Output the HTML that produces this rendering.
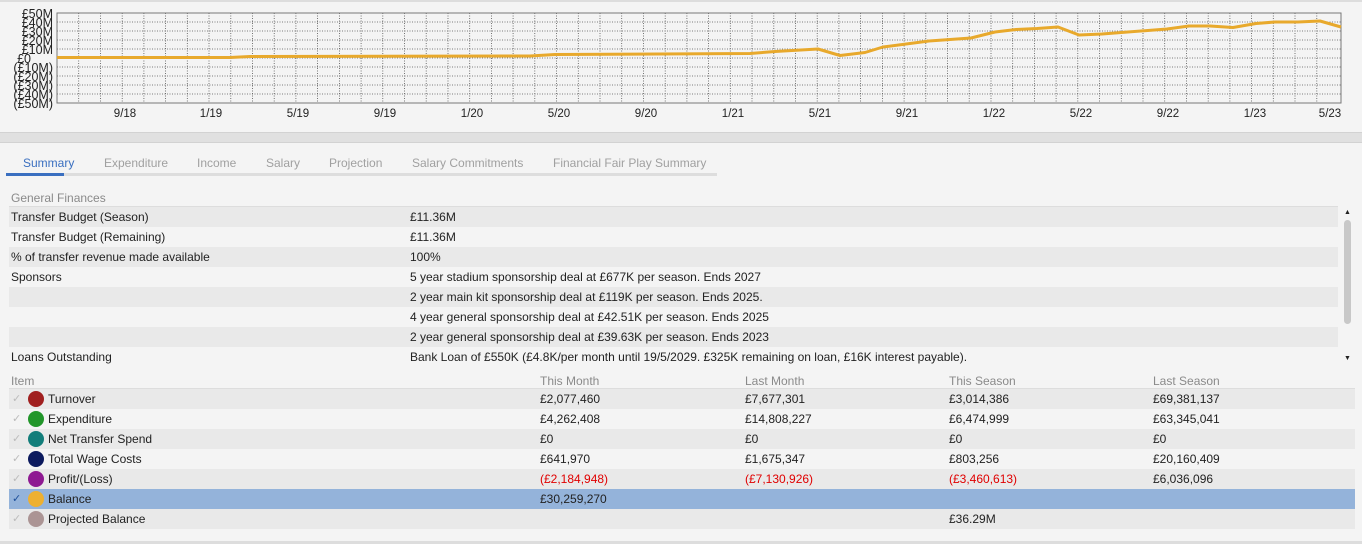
<!DOCTYPE html>
<html><head><meta charset="utf-8"><style>
*{margin:0;padding:0;box-sizing:border-box}
body{width:1362px;height:544px;background:#f4f4f4;font-family:"Liberation Sans",sans-serif;font-size:12px;color:#222;position:relative;overflow:hidden}
.a{position:absolute;white-space:nowrap}
.row{position:absolute;height:20px;line-height:21px}
.sh{background:#e9e9e9}
.tab{position:absolute;top:156px;color:#a0a0a0;font-size:12px}
.hd{color:#8a8a8a}
.red{color:#e00000}
.dot{position:absolute;width:16px;height:16px;border-radius:50%;top:2px;left:19px}
.ck{position:absolute;left:3px;color:#bbb;font-size:11px}
</style></head><body>
<div class="a" style="left:0;top:0;width:1362px;height:2px;background:#ddd"></div>
<svg class="a" style="left:0;top:0" width="1362" height="125">
<g stroke="#555" stroke-width="0.8" stroke-dasharray="1,1.5" fill="none">
<path d="M57 22H1341M57 31H1341M57 40H1341M57 49H1341M57 58H1341M57 67H1341M57 76H1341M57 85H1341M57 94H1341"/>
</g>
<g id="vl" stroke="#555" stroke-width="0.8" stroke-dasharray="1,1.5"></g>
<rect x="57" y="13" width="1284" height="90" fill="none" stroke="#777" stroke-width="1"/>
<polyline fill="none" stroke="#e8a92c" stroke-width="3" stroke-linejoin="round" points="57,57.5 230,57.5 250,56.5 530,56 555,54.5 750,53.5 775,51.5 818,49 840,55.5 865,52.5 883,47 929,41 971,38 995,32 1016,29.5 1037,28.5 1058,27 1079,35 1102,34 1167,29 1189,26 1210,26 1233,27.5 1256,23.5 1275,22 1298,22 1320,21 1341,27"/>
<g font-family="Liberation Sans" font-size="12.5" fill="#222" text-anchor="end">
<text x="53" y="18">£50M</text><text x="53" y="27">£40M</text><text x="53" y="36">£30M</text><text x="53" y="45">£20M</text><text x="53" y="54">£10M</text><text x="31" y="63">£0</text><text x="53" y="72">(£10M)</text><text x="53" y="81">(£20M)</text><text x="53" y="90">(£30M)</text><text x="53" y="99">(£40M)</text><text x="53" y="108">(£50M)</text>
</g>
<g font-family="Liberation Sans" font-size="11.5" fill="#222" text-anchor="middle">
<text x="125" y="117">9/18</text><text x="211" y="117">1/19</text><text x="298" y="117">5/19</text><text x="385" y="117">9/19</text><text x="472" y="117">1/20</text><text x="559" y="117">5/20</text><text x="646" y="117">9/20</text><text x="733" y="117">1/21</text><text x="820" y="117">5/21</text><text x="907" y="117">9/21</text><text x="994" y="117">1/22</text><text x="1081" y="117">5/22</text><text x="1168" y="117">9/22</text><text x="1255" y="117">1/23</text><text x="1330" y="117">5/23</text>
</g>
</svg>
<script>
var g=document.getElementById('vl'),s='';for(var k=1;k<59;k++){var x=(57+21.72*k).toFixed(1);s+='<line x1="'+x+'" y1="13" x2="'+x+'" y2="103"/>';}g.innerHTML=s;
</script>
<div class="a" style="left:0;top:132px;width:1362px;height:11px;background:#e0e0e0;border-top:1px solid #d2d2d2;border-bottom:1px solid #d2d2d2"></div>
<div class="tab" style="left:23px;color:#3a6fc0">Summary</div>
<div class="tab" style="left:104px">Expenditure</div>
<div class="tab" style="left:197px">Income</div>
<div class="tab" style="left:266px">Salary</div>
<div class="tab" style="left:329px">Projection</div>
<div class="tab" style="left:412px">Salary Commitments</div>
<div class="tab" style="left:553px">Financial Fair Play Summary</div>
<div class="a" style="left:6px;top:173px;width:711px;height:3px;background:#ddd"></div>
<div class="a" style="left:6px;top:173px;width:58px;height:3px;background:#3a6fc0"></div>
<div class="a hd" style="left:11px;top:191px">General Finances</div>
<div class="a" style="left:9px;top:206px;width:1329px;height:1px;background:#ddd"></div>
<div class="row sh" style="left:9px;top:207px;width:1329px"><span class="a" style="left:2px">Transfer Budget (Season)</span><span class="a" style="left:401px">£11.36M</span></div>
<div class="row" style="left:9px;top:227px;width:1329px"><span class="a" style="left:2px">Transfer Budget (Remaining)</span><span class="a" style="left:401px">£11.36M</span></div>
<div class="row sh" style="left:9px;top:247px;width:1329px"><span class="a" style="left:2px">% of transfer revenue made available</span><span class="a" style="left:401px">100%</span></div>
<div class="row" style="left:9px;top:267px;width:1329px"><span class="a" style="left:2px">Sponsors</span><span class="a" style="left:401px">5 year stadium sponsorship deal at £677K per season. Ends 2027</span></div>
<div class="row sh" style="left:9px;top:287px;width:1329px"><span class="a" style="left:401px">2 year main kit sponsorship deal at £119K per season. Ends 2025.</span></div>
<div class="row" style="left:9px;top:307px;width:1329px"><span class="a" style="left:401px">4 year general sponsorship deal at £42.51K per season. Ends 2025</span></div>
<div class="row sh" style="left:9px;top:327px;width:1329px"><span class="a" style="left:401px">2 year general sponsorship deal at £39.63K per season. Ends 2023</span></div>
<div class="row" style="left:9px;top:347px;width:1329px"><span class="a" style="left:2px">Loans Outstanding</span><span class="a" style="left:401px">Bank Loan of £550K (£4.8K/per month until 19/5/2029. £325K remaining on loan, £16K interest payable).</span></div>
<div class="a" style="left:1344px;top:220px;width:7px;height:104px;border-radius:4px;background:#c8c8c8"></div>
<div class="a" style="left:1344px;top:209px;font-size:7px">▲</div>
<div class="a" style="left:1344px;top:355px;font-size:7px">▼</div>
<div class="a hd" style="left:11px;top:374px">Item</div>
<div class="a hd" style="left:540px;top:374px">This Month</div>
<div class="a hd" style="left:745px;top:374px">Last Month</div>
<div class="a hd" style="left:949px;top:374px">This Season</div>
<div class="a hd" style="left:1153px;top:374px">Last Season</div>
<div class="a" style="left:9px;top:388px;width:1346px;height:1px;background:#ddd"></div>
<div class="row sh" style="left:9px;top:389px;width:1346px"><span class="ck">✓</span><span class="dot" style="background:#a01f1f"></span><span class="a" style="left:39px">Turnover</span><span class="a" style="left:531px">£2,077,460</span><span class="a" style="left:736px">£7,677,301</span><span class="a" style="left:940px">£3,014,386</span><span class="a" style="left:1144px">£69,381,137</span></div>
<div class="row" style="left:9px;top:409px;width:1346px"><span class="ck">✓</span><span class="dot" style="background:#22962a"></span><span class="a" style="left:39px">Expenditure</span><span class="a" style="left:531px">£4,262,408</span><span class="a" style="left:736px">£14,808,227</span><span class="a" style="left:940px">£6,474,999</span><span class="a" style="left:1144px">£63,345,041</span></div>
<div class="row sh" style="left:9px;top:429px;width:1346px"><span class="ck">✓</span><span class="dot" style="background:#127d7a"></span><span class="a" style="left:39px">Net Transfer Spend</span><span class="a" style="left:531px">£0</span><span class="a" style="left:736px">£0</span><span class="a" style="left:940px">£0</span><span class="a" style="left:1144px">£0</span></div>
<div class="row" style="left:9px;top:449px;width:1346px"><span class="ck">✓</span><span class="dot" style="background:#0c1a5e"></span><span class="a" style="left:39px">Total Wage Costs</span><span class="a" style="left:531px">£641,970</span><span class="a" style="left:736px">£1,675,347</span><span class="a" style="left:940px">£803,256</span><span class="a" style="left:1144px">£20,160,409</span></div>
<div class="row sh" style="left:9px;top:469px;width:1346px"><span class="ck">✓</span><span class="dot" style="background:#8e1a92"></span><span class="a" style="left:39px">Profit/(Loss)</span><span class="a red" style="left:531px">(£2,184,948)</span><span class="a red" style="left:736px">(£7,130,926)</span><span class="a red" style="left:940px">(£3,460,613)</span><span class="a" style="left:1144px">£6,036,096</span></div>
<div class="row" style="left:9px;top:489px;width:1346px;background:#94b3da"><span class="ck" style="color:#1d4f9a">✓</span><span class="dot" style="background:#eeb030"></span><span class="a" style="left:39px">Balance</span><span class="a" style="left:531px">£30,259,270</span></div>
<div class="row sh" style="left:9px;top:509px;width:1346px"><span class="ck">✓</span><span class="dot" style="background:#ab9494"></span><span class="a" style="left:39px">Projected Balance</span><span class="a" style="left:940px">£36.29M</span></div>
<div class="a" style="left:0;top:541px;width:1362px;height:3px;background:#ddd"></div>
</body></html>
